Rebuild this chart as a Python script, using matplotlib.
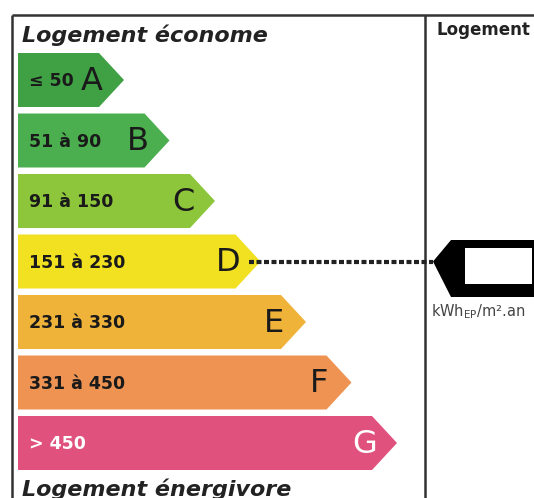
import matplotlib
matplotlib.use("Agg")
import matplotlib.pyplot as plt
from matplotlib.patches import Polygon

# Energy classes of the DPE label, best to worst
classes = ["A", "B", "C", "D", "E", "F", "G"]
ranges = ["≤ 50", "51 à 90", "91 à 150", "151 à 230", "231 à 330", "331 à 450", "> 450"]
fill_colors = ["#3fa044", "#4caf4f", "#8dc63a", "#f1e121", "#f0b33a", "#ee9352", "#e0527d"]
text_colors = ["#1a1a1a"] * 6 + ["white"]
current_class = "D"

W, H = 534, 498
fig = plt.figure(figsize=(W / 100, H / 100), dpi=100)
ax = fig.add_axes([0, 0, 1, 1])
ax.set_xlim(0, W)
ax.set_ylim(H, 0)
ax.axis("off")

# frame
line_kw = dict(color="#333333", lw=1.8, solid_capstyle="butt")
ax.plot([12, W], [15, 15], **line_kw)
ax.plot([12, 12], [15, H], **line_kw)
ax.plot([425, 425], [15, H], **line_kw)

ax.text(22, 35, "Logement économe", fontsize=16, fontweight="bold",
        fontstyle="italic", color="#222222", va="center", ha="left")
ax.text(22, 489, "Logement énergivore", fontsize=16, fontweight="bold",
        fontstyle="italic", color="#222222", va="center", ha="left")

# arrow bars
x0 = 18
top0, pitch, bar_h = 53, 60.5, 54
tip0, tip_step, tip_depth = 124, 45.5, 25
rows = {}
for i, (cls, rng, col, tcol) in enumerate(zip(classes, ranges, fill_colors, text_colors)):
    top = top0 + i * pitch
    bot = top + bar_h
    mid = (top + bot) / 2
    tip = tip0 + i * tip_step
    poly = Polygon([(x0, top), (tip - tip_depth, top), (tip, mid),
                    (tip - tip_depth, bot), (x0, bot)],
                   closed=True, facecolor=col, edgecolor="none")
    ax.add_patch(poly)
    ax.text(29, mid + 1, rng, fontsize=12.5, fontweight="bold", color=tcol,
            va="center", ha="left")
    ax.text(tip - 32, mid + 1, cls, fontsize=23, color=tcol,
            va="center", ha="center")
    rows[cls] = (mid, tip)

# marker for the current class
mid, tip = rows[current_class]
ax.plot([tip - 12, 433], [mid, mid], color="#222222", lw=3,
        linestyle=(0, (1.2, 0.6)))

ptr_left, ptr_body, ptr_top, ptr_bot = 433, 451, 240, 297
ax.add_patch(Polygon([(ptr_left, mid), (ptr_body, ptr_top), (W + 5, ptr_top),
                      (W + 5, ptr_bot), (ptr_body, ptr_bot)],
                     closed=True, facecolor="black", edgecolor="none"))
ax.add_patch(Polygon([(465, 248), (532, 248), (532, 284), (465, 284)],
                     closed=True, facecolor="white", edgecolor="none"))

ax.text(437, 30, "Logement", fontsize=12, fontweight="bold", color="#222222",
        va="center", ha="left")
ax.text(431, 312, r"kWh$_{\mathrm{EP}}$/m².an", fontsize=10.5, color="#444444",
        va="center", ha="left")

fig.savefig("out.png", dpi=100)
